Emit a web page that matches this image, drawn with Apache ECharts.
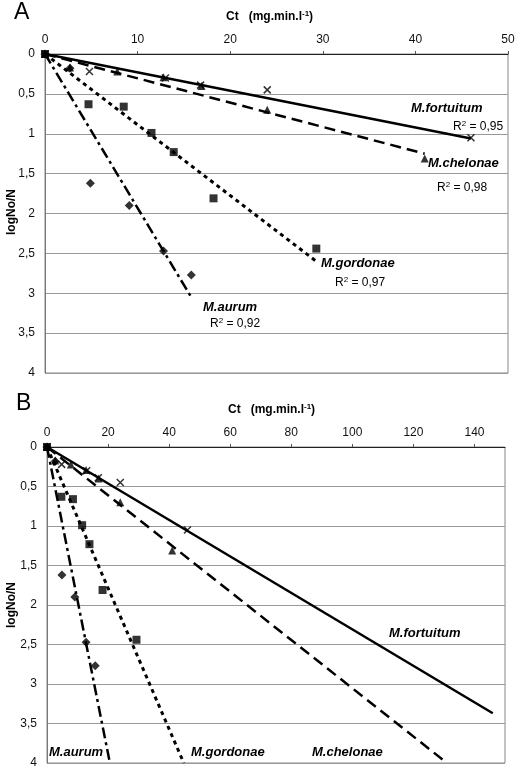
<!DOCTYPE html>
<html><head><meta charset="utf-8">
<script src="https://cdn.jsdelivr.net/npm/echarts@6/dist/echarts.min.js"></script>
<style>html,body{margin:0;padding:0;background:#fff}#c{width:520px;height:774px}</style>
</head><body><div id="c"></div>
<script>
// Observed data (Ct, logNo/N)
const fortuitum = [[0,0],[4.8,0.22],[13,0.30],[16.8,0.39],[24,0.45],[46,1.05]];
const chelonae  = [[0,0],[2.7,0.17],[7.8,0.22],[12.8,0.29],[16.9,0.40],[24,0.70],[41,1.31]];
const gordonae  = [[0,0],[4.7,0.63],[8.5,0.66],[11.5,0.99],[13.9,1.23],[18.2,1.81],[29.3,2.44]];
const aurum     = [[0,0],[2.7,0.18],[4.9,1.62],[9.1,1.90],[12.8,2.47],[15.8,2.77]];
// Trend line endpoints
const trendA = {fortuitum:[[0,0],[46,1.06]], chelonae:[[0,0],[41,1.25]], gordonae:[[0,0],[29.3,2.6]], aurum:[[0,0],[15.9,3.07]]};
const trendB = {fortuitum:[[0,0],[146,3.37]], chelonae:[[0,0],[131,4.0]], gordonae:[[0,0],[44.8,4.0]], aurum:[[0,0],[20.6,4.0]]};
const xTicksA = {min:0, max:50, interval:10};
const xTicksB = {min:0, max:150, interval:20};
const yTicks = {min:0, max:4, interval:0.5};

const FONT = '"Liberation Sans", Arial, sans-serif';
const crossPath = 'path://M0,0L10,10M10,0L0,10';
const styles = {
  fortuitum:{symbol:crossPath, size:7, line:{type:'solid', width:2.5}},
  chelonae:{symbol:'triangle', size:8, line:{type:[11,6], width:2.5}},
  gordonae:{symbol:'rect', size:8, line:{type:[4,4], width:3}},
  aurum:{symbol:'diamond', size:9, line:{type:[11,4,3,4], width:2.5}}
};
const obs = {fortuitum, chelonae, gordonae, aurum};

function xAxis(idx, t){
  return {gridIndex:idx, type:'value', position:'top', min:t.min, max:t.max, interval:t.interval,
    axisLine:{show:true, onZero:false, lineStyle:{color:'#222', width:1}},
    axisTick:{show:true, length:3, lineStyle:{color:'#555'}},
    axisLabel:{showMaxLabel: t.max % t.interval === 0, fontFamily:FONT, fontSize:12, color:'#111', margin:8},
    splitLine:{show:false}};
}
function yAxis(idx){
  return {gridIndex:idx, type:'value', inverse:true, min:yTicks.min, max:yTicks.max, interval:yTicks.interval,
    axisLine:{show:true, lineStyle:{color:'#777'}}, axisTick:{show:false},
    axisLabel:{fontFamily:FONT, fontSize:12, color:'#111', margin:10, formatter:v=>String(v).replace('.',',')},
    splitLine:{show:true, lineStyle:{color:'#999', width:1}}};
}
const series = [];
[0,1].forEach(g=>{
  const tr = g===0 ? trendA : trendB;
  Object.keys(obs).forEach(k=>{
    const s = styles[k];
    series.push({type:'line', xAxisIndex:g, yAxisIndex:g, data:tr[k], symbol:'none', silent:true,
      lineStyle:{color:'#000', width:s.line.width, type:s.line.type}, z:2});
    const isCross = k==='fortuitum';
    series.push({type:'scatter', xAxisIndex:g, yAxisIndex:g, data:obs[k], symbol:s.symbol, symbolSize:s.size,
      itemStyle: isCross ? {color:'none', borderColor:'#000', borderWidth:1.5} : {color:'#000'}, z:3});
  });
});
const bi = {fontFamily:FONT, fontWeight:'bold', fontStyle:'italic', fontSize:13, fill:'#000'};
function txt(x,y,text,st,align){ return {type:'text', x:x, y:y, style:Object.assign({text:text, textAlign:align||'left', textVerticalAlign:'middle'}, st)}; }
function r2(x,y,val){
  return {type:'text', x:x, y:y, style:{text:'R{s|2} = '+val, textAlign:'left', textVerticalAlign:'middle', fontFamily:FONT, fontSize:12, fill:'#000',
    rich:{s:{fontSize:8, verticalAlign:'top', padding:[0,0,6,0], fontFamily:FONT}}}};
}
function ctTitle(x,y){
  return {type:'text', x:x, y:y, style:{text:'{b|Ct   (mg.min.l}{s|-1}{b|)}', textAlign:'left', textVerticalAlign:'middle',
    rich:{b:{fontFamily:FONT, fontWeight:'bold', fontSize:12, fill:'#000'}, s:{fontFamily:FONT, fontWeight:'bold', fontSize:8, padding:[0,0,7,0], fill:'#000'}}}};
}
const graphic = [
  {type:'text', x:14, y:13, style:{text:'A', fontFamily:FONT, fontSize:23, fill:'#000', textVerticalAlign:'middle'}},
  {type:'text', x:16, y:404, style:{text:'B', fontFamily:FONT, fontSize:23, fill:'#000', textVerticalAlign:'middle'}},
  ctTitle(226,17), ctTitle(228,410),
  {type:'text', x:12, y:212, rotation:Math.PI/2, style:{text:'logNo/N', fontFamily:FONT, fontWeight:'bold', fontSize:12, fill:'#000', textAlign:'center', textVerticalAlign:'middle'}},
  {type:'text', x:12, y:605, rotation:Math.PI/2, style:{text:'logNo/N', fontFamily:FONT, fontWeight:'bold', fontSize:12, fill:'#000', textAlign:'center', textVerticalAlign:'middle'}},
  txt(411,108,'M.fortuitum',bi), r2(453,127,'0,95'),
  txt(428,163,'M.chelonae',bi), r2(437,188,'0,98'),
  txt(321,263,'M.gordonae',bi), r2(335,283,'0,97'),
  txt(203,307,'M.aurum',bi), r2(210,324,'0,92'),
  txt(389,633,'M.fortuitum',bi),
  txt(312,752,'M.chelonae',bi),
  txt(191,752,'M.gordonae',bi),
  txt(49,752,'M.aurum',bi)
];
const chart = echarts.init(document.getElementById('c'), null, {renderer:'canvas'});
chart.setOption({
  animation:false, backgroundColor:'#fff',
  grid:[{left:45, top:54, width:463, height:319, show:true, borderColor:'#888', borderWidth:1},
        {left:47, top:447, width:458, height:316, show:true, borderColor:'#888', borderWidth:1}],
  xAxis:[xAxis(0,xTicksA), xAxis(1,xTicksB)],
  yAxis:[yAxis(0), yAxis(1)],
  series, graphic
});
</script></body></html>
